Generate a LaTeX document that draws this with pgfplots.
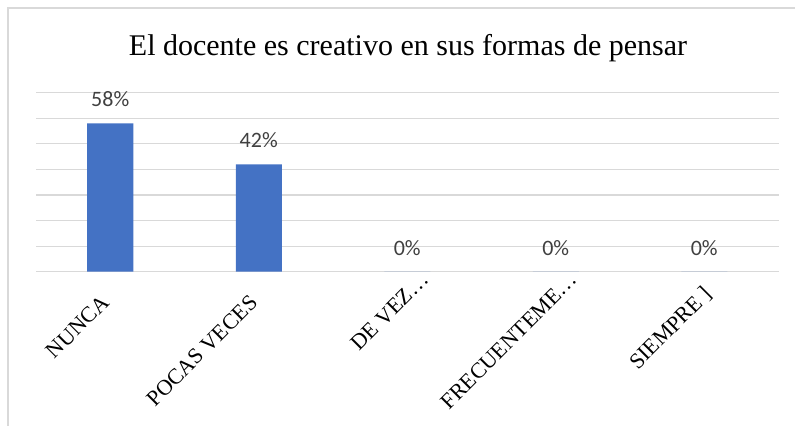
\documentclass[border=0pt]{standalone}
\usepackage{fontspec}
\setmainfont{Liberation Serif}
\newfontfamily\calibri{Carlito}
\usepackage{pgfplots}
\pgfplotsset{compat=1.18}
\definecolor{barblue}{HTML}{4472C4}
\definecolor{gridgray}{HTML}{D9D9D9}
\definecolor{labelgray}{HTML}{404040}
\begin{document}
\begin{tikzpicture}
\useasboundingbox (-36bp,-154.3bp) rectangle (759bp,271.7bp);
% chart frame (only left and top edges are inside the crop)
\draw[gridgray, line width=1.2bp] (-28bp,-160bp) -- (-28bp,263.7bp) -- (770bp,263.7bp);
\node[font=\fontsize{30bp}{34bp}\selectfont] at (372bp,223.5bp) {El docente es creativo en sus formas de pensar};
\begin{axis}[
  at={(0bp,0bp)}, anchor=south west,
  scale only axis, width=742.5bp, height=179bp,
  xmin=-0.5, xmax=4.5, ymin=0, ymax=70,
  ytick={0,10,...,70}, yticklabels={},
  ymajorgrids, major grid style={gridgray, line width=1.2bp},
  axis line style={draw=none}, tick style={draw=none},
  clip=false,
  /pgf/number format/assume math mode=true,
  xtick={0,...,4},
  xticklabels={NUNCA,POCAS VECES,DE VEZ…\hspace*{-32bp},FRECUENTEME…\hspace*{-32bp},SIEMPRE ]\hspace*{-12bp}},
  xticklabel style={xshift=-3bp, yshift=-29bp, rotate=45, anchor=east,
    inner sep=0pt, text height=14bp, text depth=5bp,
    font=\fontsize{22bp}{25bp}\selectfont},
]
\addplot[ybar, bar width=46bp, fill=barblue, draw=none,
  nodes near coords={\pgfmathprintnumber{\pgfplotspointmeta}\%},
  every node near coord/.append style={font=\calibri\fontsize{22bp}{26bp}\selectfont,
    text=labelgray, anchor=center, yshift=24bp}]
coordinates {(0,58) (1,42) (2,0) (3,0) (4,0)};
\end{axis}
\end{tikzpicture}
\end{document}
